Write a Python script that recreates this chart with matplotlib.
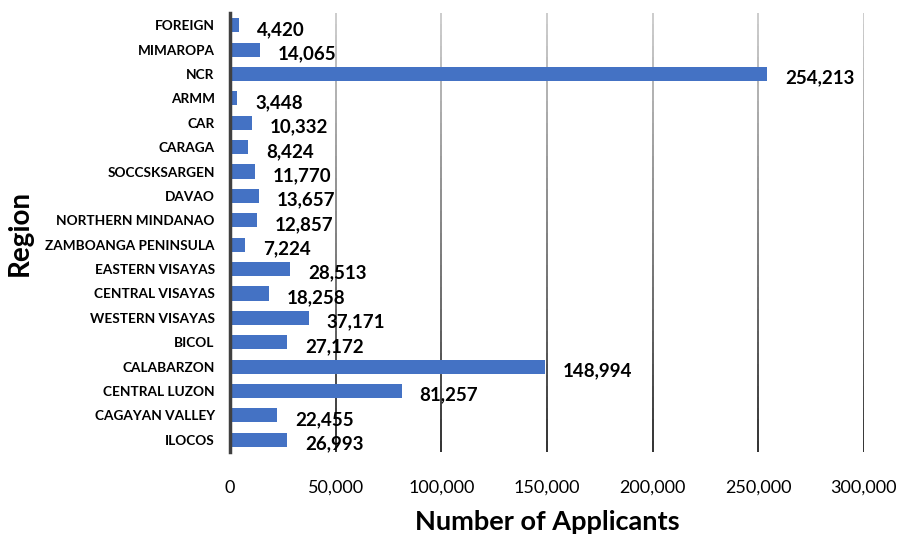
import numpy as np
import matplotlib.pyplot as plt
from matplotlib.collections import LineCollection

regions = ['FOREIGN', 'MIMAROPA', 'NCR', 'ARMM', 'CAR', 'CARAGA', 'SOCCSKSARGEN',
           'DAVAO', 'NORTHERN MINDANAO', 'ZAMBOANGA PENINSULA', 'EASTERN VISAYAS',
           'CENTRAL VISAYAS', 'WESTERN VISAYAS', 'BICOL', 'CALABARZON',
           'CENTRAL LUZON', 'CAGAYAN VALLEY', 'ILOCOS']
applicants = [4420, 14065, 254213, 3448, 10332, 8424, 11770,
              13657, 12857, 7224, 28513,
              18258, 37171, 27172, 148994,
              81257, 22455, 26993]
xticks = [0, 50000, 100000, 150000, 200000, 250000, 300000]

plt.rcParams['font.family'] = ['Lato', 'DejaVu Sans']

fig = plt.figure(figsize=(9.03, 5.34), dpi=100)
ax = fig.add_axes([0.2547, 0.1536, 0.702, 0.822])

y = np.arange(len(regions))
ax.barh(y, applicants, height=0.58, color='#4472C4', zorder=3)
ax.set_ylim(len(regions) - 0.5, -0.5)
ax.set_xlim(0, 300000)

# vertical gridlines fading from light gray at the top to dark at the bottom
y0, y1 = -0.5, len(regions) - 0.5
n = 40
ys = np.linspace(y0, y1, n + 1)
cols = plt.cm.Greys(np.linspace(0.35, 0.95, n))
for xv in xticks[1:]:
    segs = [[(xv, ys[i]), (xv, ys[i + 1])] for i in range(n)]
    ax.add_collection(LineCollection(segs, colors=cols, linewidths=1.2, zorder=1))

for yi, v in zip(y, applicants):
    ax.annotate(f'{v:,}', (v, yi), xytext=(13, -3), textcoords='offset points',
                ha='left', va='center', fontsize=13.5, fontweight='bold')

for s in ['top', 'right', 'bottom']:
    ax.spines[s].set_visible(False)
ax.spines['left'].set_color('#404040')
ax.spines['left'].set_linewidth(2.5)
ax.spines['left'].set_zorder(4)

ax.set_yticks(y)
ax.set_yticklabels(regions, fontsize=9.8, fontweight='bold')
ax.set_xticks(xticks)
ax.set_xticklabels([f'{t:,}' for t in xticks], fontsize=13)
ax.tick_params(axis='both', length=0)
ax.tick_params(axis='x', pad=20)
ax.tick_params(axis='y', pad=11)

ax.set_xlabel('Number of Applicants', fontsize=19.5, fontweight='bold', labelpad=10)
ax.set_ylabel('Region', fontsize=20, fontweight='bold')
ax.yaxis.set_label_coords(-0.311, 0.5)

fig.savefig('out.png', dpi=100)
